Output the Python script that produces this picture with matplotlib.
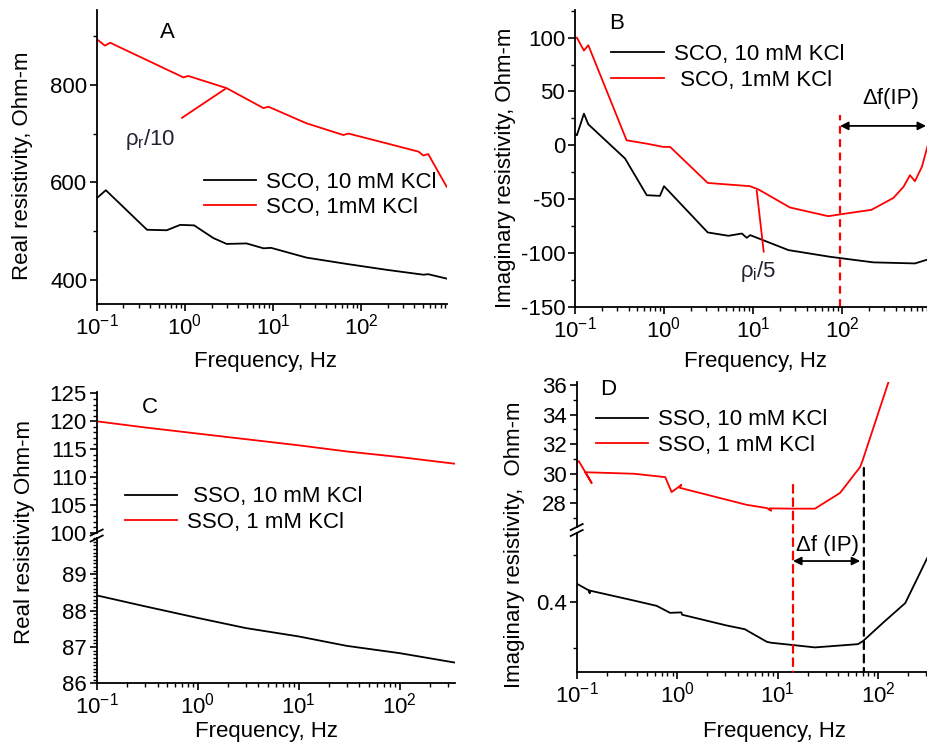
import matplotlib
matplotlib.use('Agg')
import matplotlib.pyplot as plt
import numpy as np
from matplotlib.ticker import MultipleLocator, LogLocator, NullFormatter, FixedLocator
from matplotlib.lines import Line2D
from matplotlib.patches import ConnectionPatch

plt.rcParams['font.family'] = ['Liberation Sans', 'DejaVu Sans']
plt.rcParams['mathtext.fontset'] = 'custom'
plt.rcParams['mathtext.rm'] = 'Liberation Sans'
plt.rcParams['mathtext.it'] = 'Liberation Sans'
plt.rcParams['mathtext.bf'] = 'Liberation Sans:bold'
plt.rcParams['axes.unicode_minus'] = False

# ---------------- data ----------------
# Panel A: real resistivity, SCO
fA_blk = [0.1, 0.126, 0.37, 0.62, 0.88, 1.27, 2.1, 2.97, 5.0, 7.8, 9.5, 24, 69, 195, 510, 580, 940]
A_blk = [568, 584, 503, 502, 513, 512, 486, 474, 475, 465, 466, 446, 433, 421, 411, 412, 403]
fA_red = [0.1, 0.123, 0.141, 0.96, 1.09, 2.97, 7.8, 8.85, 24, 63, 72, 195, 450, 510, 580, 940]
A_red = [893, 880, 886, 815, 818, 793, 752, 755, 721, 697, 700, 680, 663, 655, 658, 591]

# Panel B: imaginary resistivity, SCO
fB_blk = [0.1, 0.105, 0.126, 0.141, 0.365, 0.64, 0.90, 1.0, 3.1, 5.3, 7.5, 8.5, 9.3, 25, 73, 225, 660, 930]
B_blk = [10.8, 9.3, 29.4, 19.5, -12.3, -46.4, -47, -38, -81, -84.1, -82, -86, -83.5, -97.4, -103.6, -108.8, -109.8, -106]
fB_red = [0.1, 0.105, 0.126, 0.141, 0.38, 0.64, 0.98, 1.17, 3.1, 9.2, 11.5, 26, 70, 99, 214, 377, 490, 580, 660, 790, 930]
B_red = [100, 100, 88, 93, 4.6, 1.5, -1.5, -1.5, -35, -38, -41, -57.8, -65.9, -64, -60, -49, -38.7, -27.8, -33.4, -20, 1.5]
ipB = [95, 880]          # delta f(IP) range, panel B

# Panel C: real resistivity, SSO
fC = [0.1, 0.3, 1, 3, 10, 30, 100, 353]
C_red = [120.0, 118.9, 117.8, 116.8, 115.7, 114.6, 113.6, 112.4]
C_blk = [88.42, 88.12, 87.80, 87.52, 87.29, 87.03, 86.83, 86.57]

# Panel D: imaginary resistivity, SSO
fD_red = [0.1, 0.105, 0.141, 0.122, 0.37, 0.76, 0.88, 1.03, 1.1, 1.06, 4.9, 7.8, 8.6, 8.3, 14.3, 23.5, 41.7, 66, 70, 128]
D_red = [30.78, 30.85, 29.37, 30.1, 30.0, 29.77, 28.76, 29.1, 29.25, 29.05, 27.9, 27.68, 27.5, 27.66, 27.64, 27.64, 28.7, 30.45, 30.9, 36.3]
fD_blk = [0.1, 0.131, 0.135, 0.133, 0.395, 0.625, 0.85, 1.1, 1.12, 3.1, 4.7, 7.8, 8.6, 14.3, 23.5, 63, 71, 112, 186, 315]
D_blk = [0.4385, 0.4245, 0.418, 0.424, 0.401, 0.391, 0.376, 0.377, 0.372, 0.349, 0.341, 0.314, 0.312, 0.307, 0.302, 0.309, 0.316, 0.355, 0.397, 0.498]
ipD = [14.2, 72]          # delta f(IP) range, panel D

W, H = 928, 747
fig = plt.figure(figsize=(9.28, 7.47), dpi=100)

def rect(l, t, r, b):
    return [l / W, 1 - b / H, (r - l) / W, (b - t) / H]

FS = 16
LW = 1.3
RED = '#ff0000'

def style(ax, xaxis=True):
    for s in ['top', 'right']:
        ax.spines[s].set_visible(False)
    for s in ['left', 'bottom']:
        ax.spines[s].set_linewidth(1.3)
    ax.tick_params(which='major', direction='out', length=5, width=1.2, labelsize=FS, pad=2)
    ax.tick_params(which='minor', direction='out', length=3, width=1.0)
    ax.set_xscale('log')
    ax.xaxis.set_major_locator(LogLocator(base=10, numticks=12))
    ax.xaxis.set_minor_locator(LogLocator(base=10, subs=np.arange(2, 10), numticks=12))
    ax.xaxis.set_minor_formatter(NullFormatter())
    if not xaxis:
        ax.spines['bottom'].set_visible(False)
        ax.tick_params(axis='x', which='both', bottom=False, labelbottom=False)

def legend(ax, handles, labels, x, y):
    ax.legend(handles, labels, loc='upper left', bbox_to_anchor=(x, y), frameon=False,
              fontsize=FS, handlelength=2.35, handletextpad=0.45, labelspacing=0.2,
              borderpad=0, borderaxespad=0)

# ---------------- Panel A ----------------
axA = fig.add_axes(rect(97, 10, 447, 304))
style(axA)
lA1, = axA.plot(fA_blk, A_blk, color='k', lw=LW)
lA2, = axA.plot(fA_red, A_red, color=RED, lw=LW)
axA.set_xlim(0.1, 948)
axA.set_ylim(351, 953)
axA.yaxis.set_major_locator(FixedLocator([400, 600, 800]))
axA.yaxis.set_minor_locator(MultipleLocator(100))
legend(axA, [lA1, lA2], ['SCO, 10 mM KCl', 'SCO, 1mM KCl'], 0.305, 0.45)
axA.text(0.2, 0.922, 'A', transform=axA.transAxes, ha='center', va='center', fontsize=FS)
axA.annotate('', xy=(2.9, 792), xytext=(0.92, 732),
             arrowprops=dict(arrowstyle='-', color=RED, lw=LW, shrinkA=0, shrinkB=0))
axA.text(0.152, 0.56, r'$\rho_r$/10', transform=axA.transAxes, ha='center', va='center',
         fontsize=FS, color='#222233')
fig.text(23 / W, 1 - 166 / H, 'Real resistivity, Ohm-m', rotation=90, ha='center', va='center', fontsize=FS)
fig.text(266 / W, 1 - 362 / H, 'Frequency, Hz', ha='center', va='center', fontsize=FS)

# ---------------- Panel B ----------------
axB = fig.add_axes(rect(575, 10, 928, 306.7))
style(axB)
lB1, = axB.plot(fB_blk, B_blk, color='k', lw=LW)
lB2, = axB.plot(fB_red, B_red, color=RED, lw=LW)
axB.set_xlim(0.1, 925)
axB.set_ylim(-150, 125.7)
axB.yaxis.set_major_locator(MultipleLocator(50))
axB.yaxis.set_minor_locator(MultipleLocator(25))
legend(axB, [lB1, lB2], ['SCO, 10 mM KCl', ' SCO, 1mM KCl'], 0.103, 0.885)
axB.text(0.118, 0.956, 'B', transform=axB.transAxes, ha='center', va='center', fontsize=FS)
axB.vlines(ipB[0], -150, 28, colors=RED, linestyles=(0, (3.5, 2.5)), lw=1.6)
axB.annotate('', xy=(ipB[1], 18), xytext=(ipB[0], 18),
             arrowprops=dict(arrowstyle='<|-|>', color='k', lw=1.3, mutation_scale=12,
                             shrinkA=0, shrinkB=0))
axB.text(350, 43, 'Δf(IP)', ha='center', va='center', fontsize=FS)
axB.annotate('', xy=(13.2, -99), xytext=(11, -42),
             arrowprops=dict(arrowstyle='-', color=RED, lw=LW, shrinkA=0, shrinkB=0))
axB.text(11.5, -117, r'$\rho_i$/5', ha='center', va='center', fontsize=FS, color='#222233')
fig.text(505 / W, 1 - 167.5 / H, 'Imaginary resistivity, Ohm-m', rotation=90, ha='center', va='center', fontsize=FS)
fig.text(756 / W, 1 - 362 / H, 'Frequency, Hz', ha='center', va='center', fontsize=FS)

# ---------------- Panel C ----------------
axCt = fig.add_axes(rect(96.7, 391.7, 455, 533))
axCb = fig.add_axes(rect(96.7, 538, 455, 683.3))
style(axCt, xaxis=False)
style(axCb)
lC2, = axCt.plot(fC, C_red, color=RED, lw=LW)
lC1, = axCb.plot(fC, C_blk, color='k', lw=LW)
for ax in (axCt, axCb):
    ax.set_xlim(0.1, 353)
axCt.set_ylim(100, 125.3)
axCt.yaxis.set_major_locator(MultipleLocator(5))
axCt.yaxis.set_minor_locator(MultipleLocator(1))
axCb.set_ylim(86, 90.0)
axCb.yaxis.set_major_locator(FixedLocator([86, 87, 88, 89]))
axCb.yaxis.set_minor_locator(MultipleLocator(0.1))
legend(axCt, [lC1, lC2], [' SSO, 10 mM KCl', 'SSO, 1 mM KCl'], 0.078, 0.33)
axCt.text(0.149, 0.885, 'C', transform=axCt.transAxes, ha='center', va='center', fontsize=FS)
fig.text(25 / W, 1 - 531.7 / H, 'Real resistivity Ohm-m', rotation=90, ha='center', va='center', fontsize=FS)
fig.text(266.7 / W, 1 - 731.7 / H, 'Frequency, Hz', ha='center', va='center', fontsize=FS)

# ---------------- Panel D ----------------
axDt = fig.add_axes(rect(576.7, 381.7, 928, 527))
axDb = fig.add_axes(rect(576.7, 533, 928, 671.7))
style(axDt, xaxis=False)
style(axDb)
lD2, = axDt.plot(fD_red, D_red, color=RED, lw=LW)
lD1, = axDb.plot(fD_blk, D_blk, color='k', lw=LW)
for ax in (axDt, axDb):
    ax.set_xlim(0.1, 313)
axDt.set_ylim(26.4, 36.22)
axDt.yaxis.set_major_locator(MultipleLocator(2))
axDt.yaxis.set_minor_locator(MultipleLocator(1))
axDb.set_ylim(0.25, 0.547)
axDb.yaxis.set_major_locator(MultipleLocator(0.2))
axDb.yaxis.set_minor_locator(MultipleLocator(0.1))
legend(axDt, [lD1, lD2], ['SSO, 10 mM KCl', 'SSO, 1 mM KCl'], 0.055, 0.81)
axDt.text(0.089, 0.943, 'D', transform=axDt.transAxes, ha='center', va='center', fontsize=FS)
for f, ytop, col in [(ipD[0], 29.24, RED), (ipD[1], 30.39, 'k')]:
    cp = ConnectionPatch(xyA=(f, ytop), coordsA=axDt.transData, xyB=(f, 0.25), coordsB=axDb.transData,
                         color=col, lw=1.6, linestyle=(0, (3.5, 2.5)))
    fig.add_artist(cp)
axDb.annotate('', xy=(ipD[1] * 0.92, 0.487), xytext=(ipD[0], 0.487),
              arrowprops=dict(arrowstyle='<|-|>', color='k', lw=1.3, mutation_scale=12,
                              shrinkA=0, shrinkB=0))
axDb.text(31.6, 0.521, 'Δf (IP)', ha='center', va='center', fontsize=FS)
fig.text(515 / W, 1 - 545 / H, 'Imaginary resistivity,  Ohm-m', rotation=90, ha='center', va='center', fontsize=FS)
fig.text(775 / W, 1 - 731.7 / H, 'Frequency, Hz', ha='center', va='center', fontsize=FS)

# break marks on left spines
for xl, yb in [(96.7, 535.5), (576.7, 530)]:
    for dy in (-3, 3):
        y = yb + dy
        fig.add_artist(Line2D([(xl - 6) / W, (xl + 6) / W], [1 - (y + 3) / H, 1 - (y - 3) / H],
                              color='k', lw=1.3, transform=fig.transFigure))

fig.savefig('out.png', dpi=100)
